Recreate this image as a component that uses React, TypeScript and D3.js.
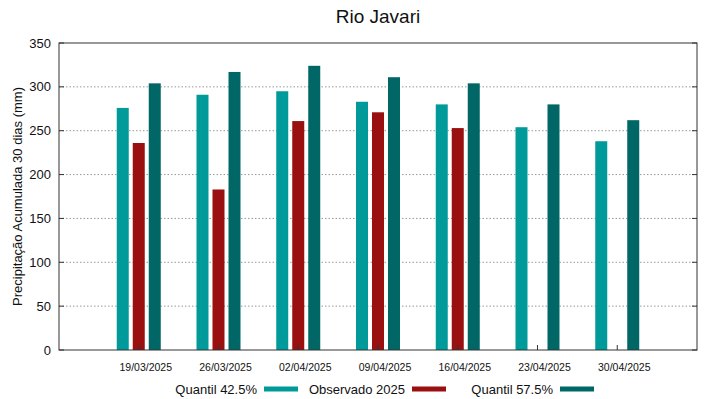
import React from "react";
import * as d3 from "d3";

const categories = ["19/03/2025", "26/03/2025", "02/04/2025", "09/04/2025", "16/04/2025", "23/04/2025", "30/04/2025"];
const quantil425 = [276, 291, 295, 283, 280, 254, 238];
const observado2025: (number | null)[] = [236, 183, 261, 271, 253, null, null];
const quantil575 = [304, 317, 324, 311, 304, 280, 262];
const yTicks = [0, 50, 100, 150, 200, 250, 300, 350];
const seriesNames = ["Quantil 42.5%", "Observado 2025", "Quantil 57.5%"];
const seriesColors = ["#009a9a", "#9a0f0f", "#006666"];

export default function App() {
  const W = 719, H = 399;
  const left = 59, right = 697, top = 43, bottom = 350;
  const x = d3.scaleLinear().domain([0, categories.length + 1]).range([left, right]);
  const y = d3.scaleLinear().domain([0, 350]).range([bottom, top]);
  const sub = d3.scaleBand<number>().domain([0, 1, 2]).range([-24, 24]).paddingInner(0.25).paddingOuter(0.125);
  const series = [quantil425, observado2025, quantil575];
  const font = "'Liberation Sans', Arial, sans-serif";

  return (
    <svg width={W} height={H} style={{ position: "absolute", left: 0, top: 0, background: "#fff" }} fontFamily={font}>
      <rect x={0} y={0} width={W} height={H} fill="#fff" />
      <text x={(left + right) / 2} y={23} textAnchor="middle" fontSize={19} fill="#111">Rio Javari</text>
      {/* grid */}
      {yTicks.filter(t => t > 0 && t < 350).map(t => (
        <line key={"g" + t} x1={left} x2={right} y1={y(t)} y2={y(t)} stroke="#999" strokeWidth={1} strokeDasharray="1.5,2" />
      ))}
      {/* bars */}
      {series.map((s, si) =>
        s.map((v, i) =>
          v == null ? null : (
            <rect key={si + "-" + i} x={x(i + 1) + (sub(si) as number)} y={y(v)} width={sub.bandwidth()} height={y(0) - y(v)}
              fill={seriesColors[si]} />
          )
        )
      )}
      {/* border */}
      <rect x={left} y={top} width={right - left} height={bottom - top} fill="none" stroke="#333" strokeWidth={1} />
      {/* y ticks */}
      {yTicks.map(t => (
        <g key={"y" + t}>
          <line x1={left} x2={left + 5} y1={y(t)} y2={y(t)} stroke="#333" />
          <line x1={right - 5} x2={right} y1={y(t)} y2={y(t)} stroke="#333" />
          <text x={51} y={y(t)} dy="0.35em" textAnchor="end" fontSize={13} fill="#111">{t}</text>
        </g>
      ))}
      {/* x ticks */}
      {categories.map((c, i) => (
        <g key={"x" + c}>
          <line x1={x(i + 1)} x2={x(i + 1)} y1={bottom} y2={bottom - 5} stroke="#333" />
          <text x={x(i + 1) + 7} y={367} dy="0.35em" textAnchor="middle" fontSize={10.5} fill="#111">{c}</text>
        </g>
      ))}
      <text transform={`translate(17,${(top + bottom) / 2}) rotate(-90)`} textAnchor="middle" dy="0.35em" fontSize={13} fill="#111">
        Precipitação Acumulada 30 dias (mm)
      </text>
      {/* legend */}
      {seriesNames.map((n, i) => {
        const sx = 264 + i * 148;
        return (
          <g key={"l" + n}>
            <text x={sx - 7} y={389} dy="0.35em" textAnchor="end" fontSize={13} fill="#111">{n}</text>
            <rect x={sx} y={386.5} width={34} height={5} fill={seriesColors[i]} />
          </g>
        );
      })}
    </svg>
  );
}
